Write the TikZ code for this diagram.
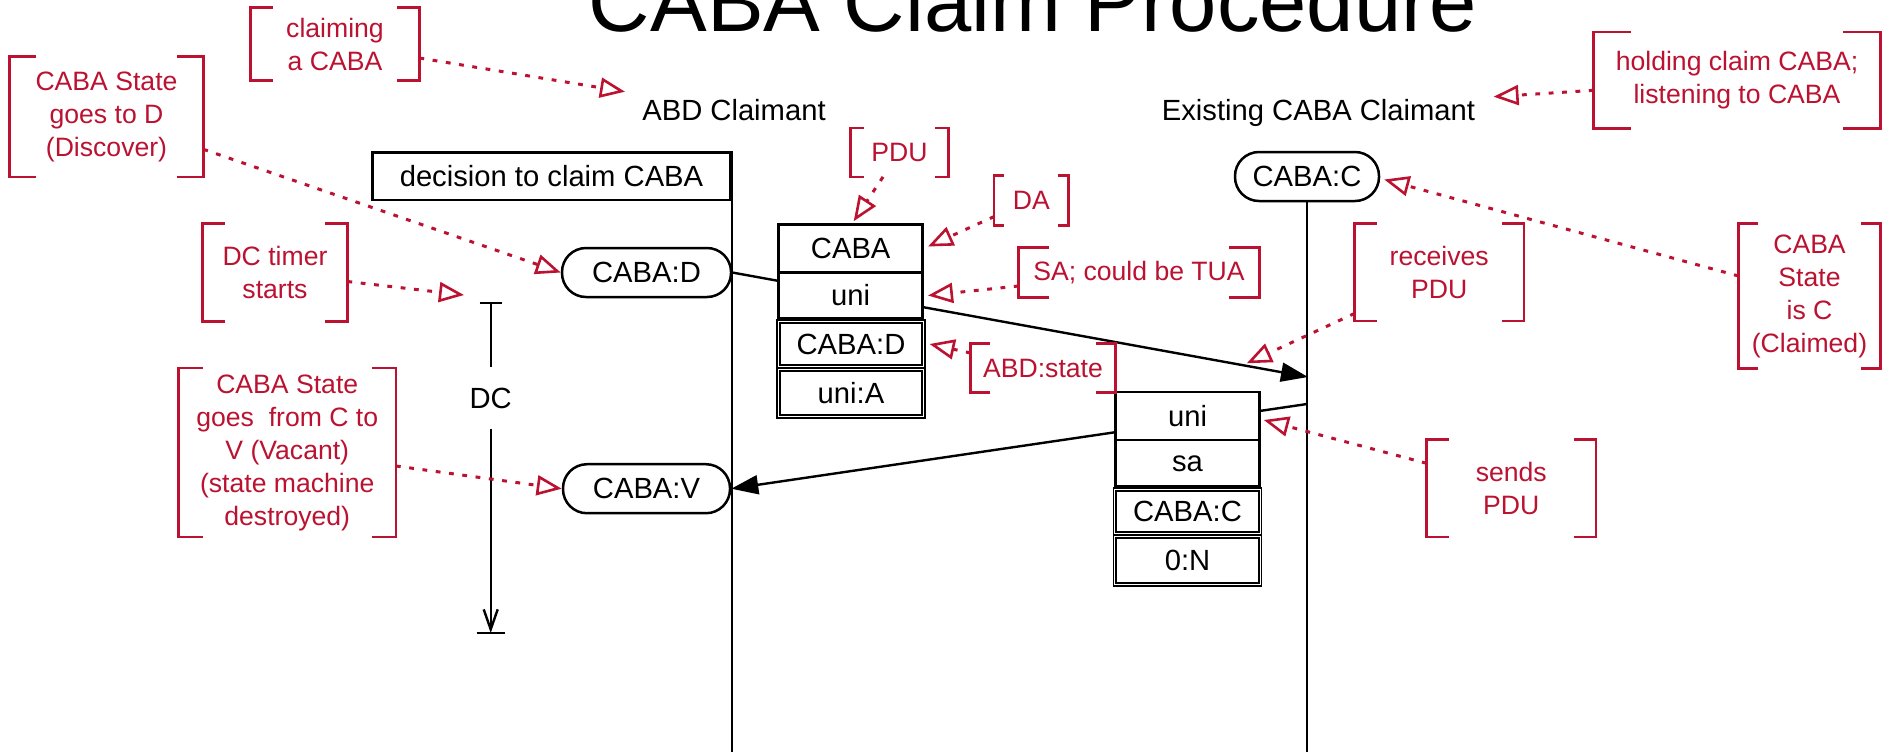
\documentclass[tikz,border=0pt]{standalone}
\usepackage{fontspec}
\setmainfont{Liberation Sans}
\usetikzlibrary{arrows.meta,calc}
\definecolor{notered}{RGB}{186,18,48}
\begin{document}
\begin{tikzpicture}[x=0.5pt, y=-0.5pt,
  blk/.style={font=\fontsize{14.6}{17.5}\selectfont, text=black},
  nt/.style={font=\fontsize{13.3}{16.5}\selectfont, text=notered, align=center, inner sep=0pt},
  brk/.style={draw=notered, line width=1.25pt},
  nline/.style={draw=notered, line width=1.5pt, dash pattern=on 2.4pt off 4.3pt,
    -{Triangle[open, length=12.5pt, width=10pt, line width=1.3pt]}},
  pill/.style={blk, draw, line width=1.25pt, rounded corners=12pt, minimum height=24.5pt, inner sep=0pt},
  sbox/.style={blk, draw, fill=white, line width=1.3pt, minimum width=72pt, inner sep=0pt},
  dbox/.style={blk, draw, fill=white, line width=0.6pt, minimum width=74pt, inner sep=0pt},
  life/.style={line width=1pt},
  msg/.style={line width=1.2pt, -{Triangle[length=13.5pt, width=9.5pt]}},
]
\useasboundingbox (0,0) rectangle (1884,752);

% title and lifeline labels
\node[font=\fontsize{42.5}{50}\selectfont, anchor=base] (title) at (1033,31) {CABA Claim Procedure};
\node[blk, anchor=base] (abdLbl) at (734,120) {ABD Claimant};
\node[blk, anchor=base] (extLbl) at (1318.5,120) {Existing CABA Claimant};

% heads
\node[blk, draw, line width=1.3pt, minimum width=179pt, minimum height=23.75pt, inner sep=0pt] (decision) at (551.5,176.2) {decision to claim CABA};
\node[pill, minimum width=84.5pt] (Dpill) at (646.5,272.5) {CABA:D};
\node[pill, minimum width=83.5pt] (Vpill) at (646.5,488.7) {CABA:V};
\node[pill, minimum width=72pt] (Cpill) at (1307,176.5) {CABA:C};

% lifelines
\coordinate (bottom) at (0,752);
\draw[life] (decision.north east) -- (decision.north east |- bottom);
\draw[life] (Cpill.south) -- (Cpill.south |- bottom);

% messages
\coordinate (m1end) at (1308,377);
\coordinate (m2start) at (1307,404);
\draw[msg] (Dpill.east) -- (m1end);
\draw[msg] (m2start) -- (Vpill.east);

% PDU 1
\node[sbox, minimum height=24pt] (b1caba) at (850.7,248.5) {CABA};
\node[sbox, minimum height=23pt] (b1uni) at (850.7,295.5) {uni};
\node[dbox, minimum height=24pt] (b1stD) at (851,344) {CABA:D};
\node[dbox, minimum height=25pt] (b1uniA) at (851,393) {uni:A};
% PDU 2
\node[sbox, minimum height=24pt] (b2uni) at (1187.5,416) {uni};
\node[sbox, minimum height=23.3pt] (b2sa) at (1187.5,463.3) {sa};
\node[dbox, minimum height=23.5pt] (b2stC) at (1187.5,511.5) {CABA:C};
\node[dbox, minimum height=25.5pt] (b2zero) at (1187.5,560.5) {0:N};
\foreach \n in {b1stD,b1uniA,b2stC,b2zero}
  \draw[line width=1pt] ($(\n.north west)+(3.5,3.5)$) rectangle ($(\n.south east)+(-3.5,-3.5)$);

% DC timer
\coordinate (dcTop) at (490.7,303);
\coordinate (dcBot) at (490.7,633);
\node[blk, inner sep=0pt, minimum height=30.5pt] (DC) at (490.7,398) {DC};
\draw[line width=1.2pt] (dcTop) -- (DC.north);
\draw[line width=1.2pt, -{Straight Barb[length=10pt,width=7pt]}] (DC.south) -- (dcBot);
\draw[line width=1.3pt] ($(dcTop)+(-11,0)$) -- ($(dcTop)+(11,0)$);
\draw[line width=1.3pt] ($(dcBot)+(-14,0)$) -- ($(dcBot)+(14,0)$);

% notes
\node[nt, minimum width=84pt, minimum height=36pt] (claim) at (335,44) {claiming\\a CABA};
\node[nt, minimum width=96.5pt, minimum height=60pt] (goesD) at (106.5,116.7) {CABA State\\goes to D\\(Discover)};
\node[nt, minimum width=72pt, minimum height=48.5pt] (timer) at (275,272.5) {DC timer\\starts};
\node[nt, minimum width=108.25pt, minimum height=84.2pt] (goesV) at (287.25,452.5) {CABA State\\goes~ from C to\\V (Vacant)\\(state machine\\destroyed)};
\node[nt, minimum width=48.5pt, minimum height=24pt] (pdu) at (899.5,152.5) {PDU};
\node[nt, minimum width=36.7pt, minimum height=24.5pt] (da) at (1031.3,200.5) {DA};
\node[nt, minimum width=120pt, minimum height=24.5pt] (sa) at (1139,272.5) {SA; could be TUA};
\node[nt, minimum width=72pt, minimum height=24.2pt] (abd) at (1043,368) {ABD:state};
\node[nt, minimum width=84.25pt, minimum height=48.4pt] (recv) at (1439.25,272.4) {receives\\PDU};
\node[nt, minimum width=84.25pt, minimum height=48.4pt] (sends) at (1511.25,488.3) {sends\\PDU};
\node[nt, minimum width=143pt, minimum height=48pt] (hold) at (1737,80.3) {holding claim CABA;\\listening to CABA};
\node[nt, minimum width=70.5pt, minimum height=72pt] (isC) at (1809.5,296) {CABA\\State\\is C\\(Claimed)};

\foreach \n/\t in {claim/22, goesD/26, timer/22, goesV/24, pdu/13, da/10, sa/30, abd/19, recv/22, sends/22, hold/37, isC/19} {
  \draw[brk] ($(\n.north west)+(\t,0)$) -- (\n.north west) -- (\n.south west) -- ($(\n.south west)+(\t,0)$);
  \draw[brk] ($(\n.north east)+(-\t,0)$) -- (\n.north east) -- (\n.south east) -- ($(\n.south east)+(-\t,0)$);
}

% note connectors
\coordinate (tClaim) at (625,91.7);
\coordinate (tTimer) at (464,295);
\coordinate (tRecv) at (1246.7,363.3);
\coordinate (tHold) at (1493.6,96.7);
\draw[nline] ($(claim.east)+(0,14)$) -- (tClaim);
\draw[nline] ($(goesD.east)+(0,32.6)$) -- (Dpill.west);
\draw[nline] ($(timer.east)+(0,9)$) -- (tTimer);
\draw[nline] ($(goesV.east)+(0,13.5)$) -- (Vpill.west);
\draw[nline] ($(pdu.south)+(-16.5,0)$) -- ($(b1caba.north)+(3,-2)$);
\draw[nline] ($(da.west)+(0,16)$) -- ($(b1caba.east)+(4,-2)$);
\draw[nline] ($(sa.west)+(0,13.5)$) -- ($(b1uni.east)+(4,0)$);
\draw[nline] ($(abd.west)+(0,-15)$) -- ($(b1stD.east)+(4,0)$);
\draw[nline] ($(recv.west)+(0,41)$) -- (tRecv);
\draw[nline] ($(sends.west)+(0,-25)$) -- ($(b2uni.east)+(3,4)$);
\draw[nline] ($(hold.west)+(0,10)$) -- (tHold);
\draw[nline] ($(isC.west)+(0,-20)$) -- ($(Cpill.east)+(4,3)$);
\end{tikzpicture}
\end{document}
